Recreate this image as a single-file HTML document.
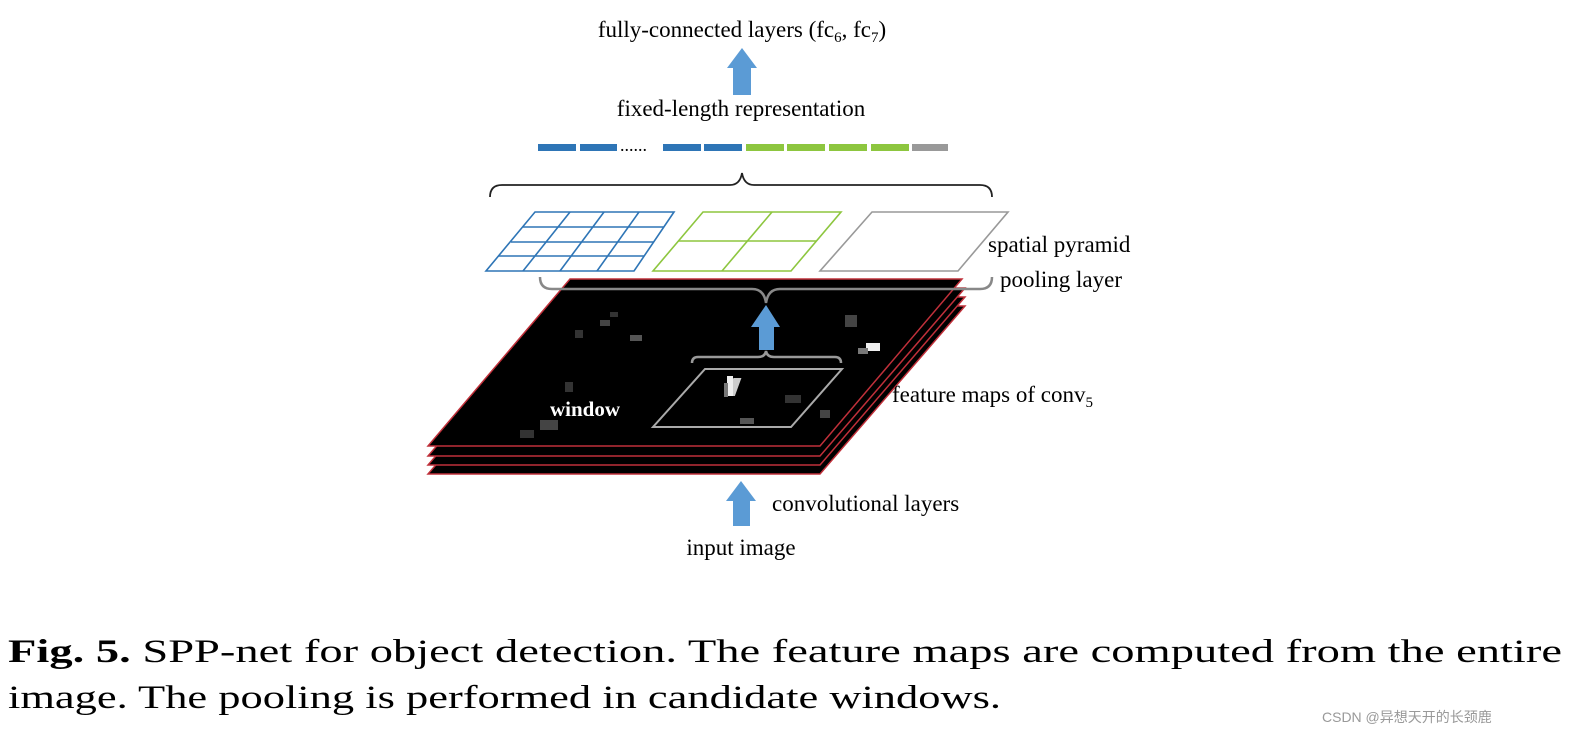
<!DOCTYPE html>
<html><head><meta charset="utf-8"><style>
html,body{margin:0;padding:0;background:#fff;}
svg{display:block;}
text{font-family:"Liberation Serif",serif;}
</style></head><body>
<svg width="1581" height="740" viewBox="0 0 1581 740" xmlns="http://www.w3.org/2000/svg">
<rect width="1581" height="740" fill="#fff"/>
<!-- top labels -->
<text x="742" y="37" font-size="23" text-anchor="middle">fully-connected layers (fc<tspan font-size="15" dy="5">6</tspan><tspan dy="-5">, fc</tspan><tspan font-size="15" dy="5">7</tspan><tspan dy="-5">)</tspan></text>
<polygon points="733,95 751,95 751,68 757,68 742,48 727,68 733,68" fill="#5b9bd5"/>
<text x="741" y="116" font-size="23" text-anchor="middle">fixed-length representation</text>
<!-- bars -->
<g>
<rect x="538" y="144" width="38" height="7" fill="#2e75b6"/>
<rect x="580" y="144" width="37" height="7" fill="#2e75b6"/>
<text x="620" y="151" font-size="18">......</text>
<rect x="663" y="144" width="38" height="7" fill="#2e75b6"/>
<rect x="704" y="144" width="38" height="7" fill="#2e75b6"/>
<rect x="746" y="144" width="38" height="7" fill="#8dc63f"/>
<rect x="787" y="144" width="38" height="7" fill="#8dc63f"/>
<rect x="829" y="144" width="38" height="7" fill="#8dc63f"/>
<rect x="871" y="144" width="38" height="7" fill="#8dc63f"/>
<rect x="912" y="144" width="36" height="7" fill="#999"/>
</g>
<!-- top brace -->
<path d="M490,197 Q490,185 502,185 L730,185 Q740,185 742,173 Q744,185 754,185 L980,185 Q992,185 992,197" fill="none" stroke="#222" stroke-width="1.8"/>
<!-- sheets (bottom first) -->
<g stroke="#c0303a" stroke-width="1.5" fill="#000">
<polygon points="428,474 820,474 965,306 573,306"/>
<polygon points="428,465 820,465 965,297 573,297"/>
<polygon points="428,456 820,456 965,288 573,288"/>
<polygon points="428,446 820,446 962,279 570,279"/>
</g>
<!-- spots -->
<g>
<rect x="731" y="378" width="8" height="18" fill="#ccc" transform="skewX(-20) translate(140,0)"/>
<rect x="727" y="376" width="6" height="20" fill="#eee"/>
<rect x="724" y="383" width="4" height="14" fill="#777"/>
<rect x="866" y="343" width="14" height="8" fill="#eee"/>
<rect x="858" y="348" width="10" height="6" fill="#777"/>
<rect x="845" y="315" width="12" height="12" fill="#444"/>
<rect x="600" y="320" width="10" height="6" fill="#444"/>
<rect x="630" y="335" width="12" height="6" fill="#555"/>
<rect x="610" y="312" width="8" height="5" fill="#333"/>
<rect x="575" y="330" width="8" height="8" fill="#333"/>
<rect x="540" y="420" width="18" height="10" fill="#444"/>
<rect x="520" y="430" width="14" height="8" fill="#333"/>
<rect x="565" y="382" width="8" height="10" fill="#333"/>
<rect x="740" y="418" width="14" height="6" fill="#555"/>
<rect x="785" y="395" width="16" height="8" fill="#333"/>
<rect x="820" y="410" width="10" height="8" fill="#444"/>
</g>
<!-- window -->
<polygon points="705,369 842,369 791,427 653,427" fill="none" stroke="#aaa" stroke-width="2"/>
<text x="550" y="416" font-size="21" font-weight="bold" fill="#fff">window</text>
<!-- small brace -->
<path d="M692,363 Q692,357 698,357 L758,357 Q765,357 766,351 Q767,357 774,357 L835,357 Q841,357 841,363" fill="none" stroke="#999" stroke-width="2.5"/>
<!-- arrow middle -->
<polygon points="759,350 774,350 774,327 780,327 766,305 751,327 759,327" fill="#5b9bd5"/>
<!-- gray brace -->
<path d="M540,277 Q540,289 552,289 L752,289 Q764,289 766,303 Q768,289 780,289 L980,289 Q992,289 992,277" fill="none" stroke="#888" stroke-width="2.5"/>
<!-- grids -->
<g fill="#fff" stroke="#2e75b6" stroke-width="1.6">
<polygon points="535,212 674,212 634,271 486,271"/>
<line x1="523" y1="227" x2="664" y2="227"/>
<line x1="511" y1="242" x2="654" y2="242"/>
<line x1="498" y1="256" x2="644" y2="256"/>
<line x1="570" y1="212" x2="523" y2="271"/>
<line x1="604" y1="212" x2="560" y2="271"/>
<line x1="639" y1="212" x2="597" y2="271"/>
</g>
<g fill="#fff" stroke="#8dc63f" stroke-width="1.6">
<polygon points="703,212 841,212 791,271 653,271"/>
<line x1="678" y1="241" x2="816" y2="241"/>
<line x1="772" y1="212" x2="722" y2="271"/>
</g>
<polygon points="872,212 1008,212 958,271 820,271" fill="#fff" stroke="#999" stroke-width="1.6"/>
<text x="988" y="252" font-size="23">spatial pyramid</text>
<text x="1000" y="287" font-size="23">pooling layer</text>
<text x="892" y="402" font-size="23">feature maps of conv<tspan font-size="15" dy="5">5</tspan></text>
<!-- bottom arrow -->
<polygon points="733,526 750,526 750,501 756,501 741,481 726,501 733,501" fill="#5b9bd5"/>
<text x="772" y="511" font-size="23">convolutional layers</text>
<text x="741" y="555" font-size="23" text-anchor="middle">input image</text>
<!-- caption -->
<text x="8" y="662" font-size="33" textLength="1554" lengthAdjust="spacingAndGlyphs"><tspan font-weight="bold">Fig. 5.</tspan> SPP-net for object detection. The feature maps are computed from the entire</text>
<text x="8" y="708" font-size="33" textLength="993" lengthAdjust="spacingAndGlyphs">image. The pooling is performed in candidate windows.</text>
<text x="1322" y="722" font-size="14" fill="#999" style='font-family:"Liberation Sans","Noto Sans CJK SC",sans-serif'>CSDN @异想天开的长颈鹿</text>
</svg>
</body></html>
